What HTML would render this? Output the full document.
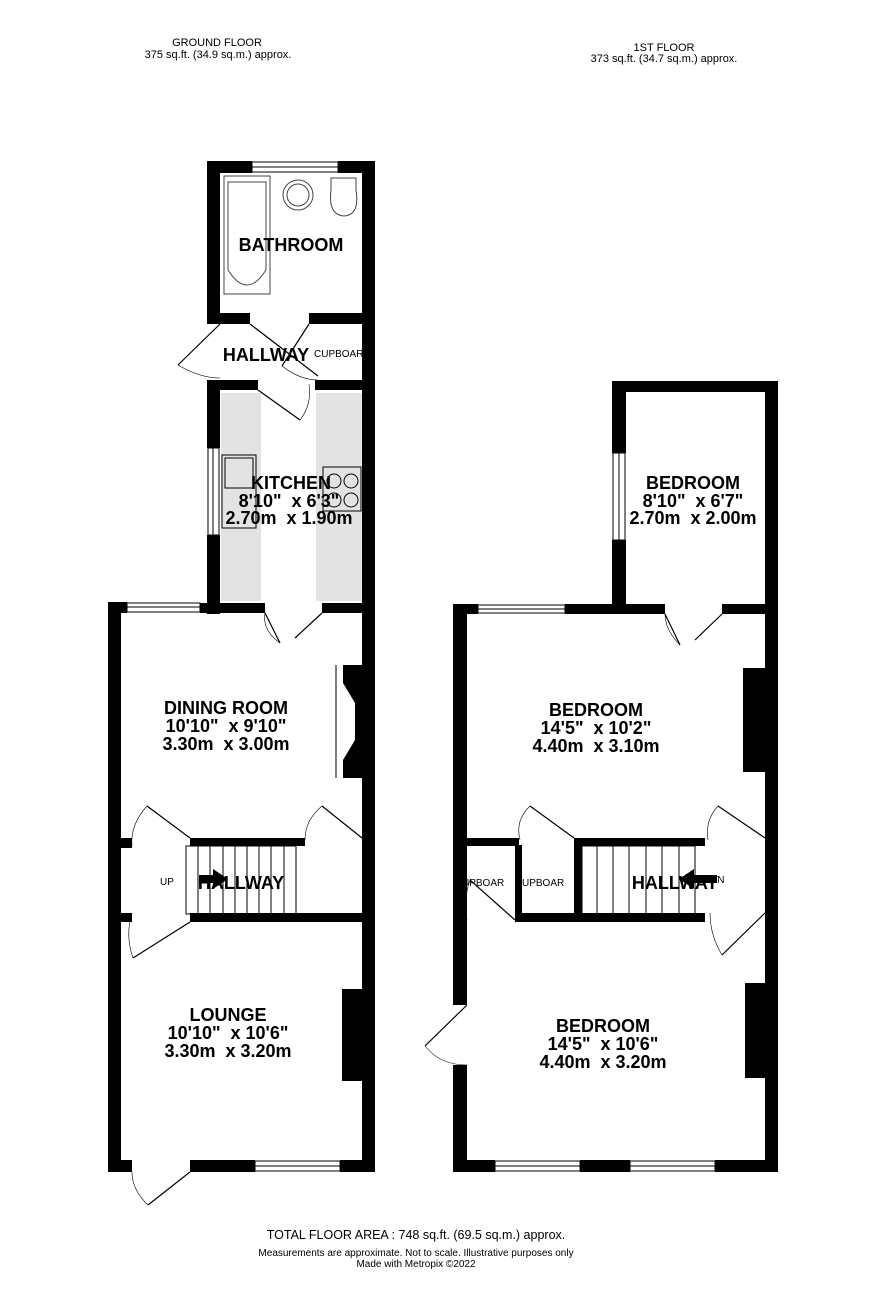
<!DOCTYPE html>
<html><head><meta charset="utf-8"><style>
html,body{margin:0;padding:0;background:#fff;}
svg{display:block;font-family:"Liberation Sans",sans-serif;}
</style></head><body>
<svg width="886" height="1312" viewBox="0 0 886 1312" xmlns="http://www.w3.org/2000/svg">
<g font-size="11" text-anchor="middle" fill="#000">
<text x="217" y="46">GROUND FLOOR</text>
<text x="218" y="58">375 sq.ft. (34.9 sq.m.) approx.</text>
<text x="664" y="51">1ST FLOOR</text>
<text x="664" y="62">373 sq.ft. (34.7 sq.m.) approx.</text>
<text x="416" y="1239" font-size="12.5">TOTAL FLOOR AREA : 748 sq.ft. (69.5 sq.m.) approx.</text>
<text x="416" y="1256" font-size="10">Measurements are approximate.  Not to scale.  Illustrative purposes only</text>
<text x="416" y="1267" font-size="10">Made with Metropix ©2022</text>
</g>
<rect x="221" y="393" width="40" height="208" fill="#e3e3e3"/>
<rect x="316" y="393" width="46" height="208" fill="#e3e3e3"/>
<g fill="#000">
<rect x="207" y="161" width="45" height="12"/><rect x="338" y="161" width="37" height="12"/>
<rect x="207" y="161" width="13" height="163"/>
<rect x="362" y="161" width="13" height="1011"/>
<rect x="207" y="313" width="43" height="11"/><rect x="309" y="313" width="53" height="11"/>
<rect x="207" y="380" width="51" height="10"/><rect x="315" y="380" width="47" height="10"/>
<rect x="207" y="380" width="13" height="68"/><rect x="207" y="535" width="13" height="79"/>
<rect x="200" y="603" width="65" height="10"/><rect x="322" y="603" width="40" height="10"/>
<rect x="108" y="602" width="19" height="11"/>
<rect x="108" y="602" width="13" height="570"/>
<rect x="121" y="838" width="11" height="10"/><rect x="190" y="838" width="115" height="8"/>
<rect x="121" y="913" width="11" height="9"/><rect x="190" y="913" width="172" height="9"/>
<path d="M343 665 H362 V778 H343 V760 L355 740 V703 L343 683 Z"/>
<rect x="342" y="989" width="20" height="92"/>
<rect x="108" y="1160" width="24" height="12"/><rect x="190" y="1160" width="65" height="12"/><rect x="340" y="1160" width="35" height="12"/>
<rect x="612" y="381" width="166" height="11"/>
<rect x="612" y="381" width="14" height="72"/><rect x="612" y="540" width="14" height="74"/>
<rect x="765" y="381" width="13" height="791"/>
<rect x="565" y="604" width="100" height="10"/><rect x="722" y="604" width="43" height="10"/>
<rect x="453" y="604" width="25" height="10"/>
<rect x="453" y="604" width="14" height="401"/><rect x="453" y="1065" width="14" height="107"/>
<rect x="743" y="668" width="22" height="104"/>
<rect x="467" y="838" width="52" height="8"/><rect x="515" y="845" width="7" height="75"/>
<rect x="515" y="913" width="190" height="9"/>
<rect x="574" y="838" width="131" height="8"/><rect x="574" y="838" width="8" height="76"/>
<rect x="745" y="983" width="20" height="95"/>
<rect x="453" y="1160" width="42" height="12"/><rect x="580" y="1160" width="50" height="12"/><rect x="715" y="1160" width="63" height="12"/>
</g>
<g fill="none" stroke="#000" stroke-width="1">
<rect x="252" y="162" width="86" height="10"/><line x1="252" y1="167" x2="338" y2="167"/>
<rect x="208" y="448" width="11" height="87"/><line x1="213" y1="448" x2="213" y2="535"/>
<rect x="127" y="603" width="73" height="9"/><line x1="127" y1="607" x2="200" y2="607"/>
<rect x="255" y="1161" width="85" height="10"/><line x1="255" y1="1166" x2="340" y2="1166"/>
<rect x="613" y="453" width="12" height="87"/><line x1="619" y1="453" x2="619" y2="540"/>
<rect x="478" y="605" width="87" height="8"/><line x1="478" y1="609" x2="565" y2="609"/>
<rect x="495" y="1161" width="85" height="10"/><line x1="495" y1="1166" x2="580" y2="1166"/>
<rect x="630" y="1161" width="85" height="10"/><line x1="630" y1="1166" x2="715" y2="1166"/>
<line x1="336" y1="665" x2="336" y2="778"/>
<rect x="224" y="176" width="46" height="118" stroke="#444"/>
<path d="M228 182 H266 V270 Q247 300 228 270 Z" stroke="#444"/>
<circle cx="298" cy="195" r="15" stroke="#444"/><circle cx="298" cy="195" r="11" stroke="#444"/>
<path d="M331 178 H356 V190 Q360 215 344 216 Q328 215 331 190 Z" stroke="#444"/>
<rect x="222" y="455" width="34" height="73"/><rect x="225" y="458" width="28" height="30"/>
<rect x="323" y="467" width="38" height="44"/>
<circle cx="334" cy="481" r="7"/><circle cx="351" cy="481" r="7"/><circle cx="334" cy="500" r="7"/><circle cx="351" cy="500" r="7"/>
<rect x="186" y="846" width="110" height="68"/>
<path d="M198 846V914M210 846V914M223 846V914M235 846V914M247 846V914M259 846V914M271 846V914M284 846V914"/>
<rect x="582" y="846" width="113" height="68"/>
<path d="M597 846V914M613 846V914M629 846V914M646 846V914M662 846V914M679 846V914"/>
</g>
<g fill="none" stroke="#000" stroke-width="1.2">
<path d="M250 324 L318 376"/><path d="M220 324 L178 365"/><path d="M309 324 L282 366"/>
<path d="M258 390 L300 420"/><path d="M265 613 L280 643"/><path d="M322 613 L295 638"/>
<path d="M190 838 L147 806"/><path d="M190 922 L133 958"/><path d="M362 838 L322 806"/>
<path d="M190 1172 L148 1205"/><path d="M665 614 L680 645"/><path d="M722 614 L695 640"/>
<path d="M574 838 L530 806"/><path d="M515 920 L470 880"/><path d="M765 838 L718 806"/><path d="M765 913 L722 955"/>
<path d="M467 1005 L425 1046"/>
</g>
<g fill="none" stroke="#000" stroke-width="0.6">
<path d="M178 365 Q200 378 220 378"/><path d="M282 366 Q300 380 318 380"/><path d="M300 420 Q312 405 309 384"/>
<path d="M280 643 Q262 630 265 613"/>
<path d="M147 806 Q130 825 132 846"/><path d="M133 958 Q125 935 132 913"/><path d="M322 806 Q305 820 305 840"/>
<path d="M148 1205 Q132 1190 132 1172"/><path d="M680 645 Q665 630 665 614"/>
<path d="M530 806 Q515 820 520 840"/><path d="M470 880 Q463 900 467 920"/><path d="M718 806 Q705 820 708 840"/><path d="M722 955 Q710 935 710 913"/>
<path d="M425 1046 Q440 1065 467 1065"/>
</g>
<path d="M199 875 H213 V869 L228 879 L213 889 V883 H199 Z" fill="#000"/>
<path d="M717 875 H694 V869 L679 879 L694 889 V883 H717 Z" fill="#000"/>
<g font-weight="bold" text-anchor="middle" fill="#000" font-size="18">
<text x="291" y="251">BATHROOM</text>
<text x="266" y="361">HALLWAY</text>
<text x="291" y="489">KITCHEN</text><text x="289" y="507">8'10"&#160;&#160;x 6'3"</text><text x="289" y="524">2.70m&#160;&#160;x 1.90m</text>
<text x="226" y="714">DINING ROOM</text><text x="226" y="732">10'10"&#160;&#160;x 9'10"</text><text x="226" y="750">3.30m&#160;&#160;x 3.00m</text>
<text x="241" y="889">HALLWAY</text>
<text x="228" y="1021">LOUNGE</text><text x="228" y="1039">10'10"&#160;&#160;x 10'6"</text><text x="228" y="1057">3.30m&#160;&#160;x 3.20m</text>
<text x="693" y="489">BEDROOM</text><text x="693" y="507">8'10"&#160;&#160;x 6'7"</text><text x="693" y="524">2.70m&#160;&#160;x 2.00m</text>
<text x="596" y="716">BEDROOM</text><text x="596" y="734">14'5"&#160;&#160;x 10'2"</text><text x="596" y="752">4.40m&#160;&#160;x 3.10m</text>
<text x="675" y="889">HALLWAY</text>
<text x="603" y="1032">BEDROOM</text><text x="603" y="1050">14'5"&#160;&#160;x 10'6"</text><text x="603" y="1068">4.40m&#160;&#160;x 3.20m</text>
</g>
<g font-size="10" fill="#000">
<text x="314" y="357">CUPBOAR</text>
<text x="160" y="885">UP</text>
<text x="462" y="886">UPBOAR</text><text x="522" y="886">UPBOAR</text>
<text x="700" y="883">OWN</text>
</g>
</svg>
</body></html>
